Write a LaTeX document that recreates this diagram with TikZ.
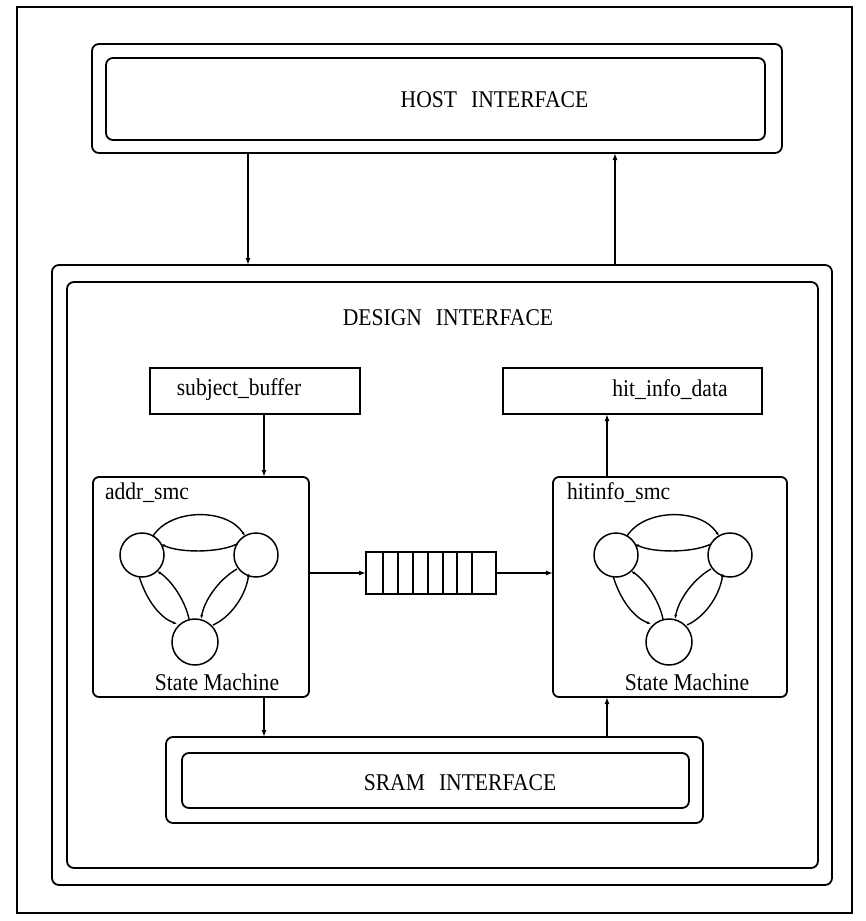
\documentclass[tikz,border=0pt]{standalone}
\usepackage{fontspec}
\setmainfont{Liberation Serif}
\newfontfamily\condserif{Liberation Serif}[FakeStretch=0.9]
\usetikzlibrary{arrows.meta,calc}
\tikzset{
  every node/.style={inner sep=0pt, outer sep=0pt},
  ln/.style={line width=1.8pt},
  rbox/.style={ln, draw, rounded corners=7pt},
  sbox/.style={ln, draw},
  arr/.style={ln, -{Latex[length=7pt,width=5pt]}},
  sarr/.style={line width=1.4pt, -{Latex[length=4pt,width=3pt]}},
  lbl/.style={font=\condserif\fontsize{24}{28}\selectfont},
  pics/statemachine/.style={code={
    \draw[line width=1.5pt] (-57,-25) circle (22);
    \draw[line width=1.5pt] (57,-25) circle (22);
    \draw[line width=1.5pt] (-4,62) circle (23);
    \draw[sarr] (-46,-44) .. controls (-28,-72) and (28,-72) .. (46,-44);
    \draw[sarr] (38,-36) .. controls (20,-27) and (-20,-27) .. (-38,-36);
    \draw[sarr] (-60,-4) .. controls (-52,22) and (-38,38) .. (-22,44);
    \draw[sarr] (-10,39) .. controls (-14,20) and (-28,0) .. (-42,-9);
    \draw[sarr] (14,45) .. controls (30,38) and (46,18) .. (50,-7);
    \draw[sarr] (38,-11) .. controls (22,-2) and (6,18) .. (2,39);
  }}
}
\begin{document}
\begin{tikzpicture}[x=1pt,y=-1pt]
\useasboundingbox (0,0) rectangle (866,921);
% outer frame
\node[sbox, minimum width=835pt, minimum height=906pt] (frame) at (434.5,460) {};
% host interface
\node[rbox, minimum width=690pt, minimum height=109pt] (hostO) at (437,98.5) {};
\node[rbox, minimum width=659pt, minimum height=82pt] (hostI) at (435.5,99) {};
\node[lbl] (hostT) at (494.5,100) {HOST\hspace{14pt}INTERFACE};
% design interface
\node[rbox, minimum width=780pt, minimum height=620pt] (desO) at (442,575) {};
\node[rbox, minimum width=751pt, minimum height=586pt] (desI) at (442.5,575) {};
\node[lbl] (desT) at (448,318) {DESIGN\hspace{14pt}INTERFACE};
% buffers
\node[sbox, minimum width=210pt, minimum height=46pt] (sb) at (255,391) {};
\node[lbl] (sbT) at (239,390) {subject\_buffer};
\node[sbox, minimum width=259pt, minimum height=46pt] (hid) at (632.5,391) {};
\node[lbl] (hidT) at (670,390) {hit\_info\_data};
% state machine boxes
\node[rbox, rounded corners=6pt, minimum width=216pt, minimum height=220pt] (addr) at (201,587) {};
\node[rbox, rounded corners=6pt, minimum width=234pt, minimum height=220pt] (hit) at (670,587) {};
\node[lbl, anchor=west] (addrT) at (105,493) {addr\_smc};
\node[lbl, anchor=west] (hitT) at (567,493) {hitinfo\_smc};
\pic at (199,580) {statemachine};
\pic at (673,580) {statemachine};
\node[lbl] (addrS) at (217,682) {State Machine};
\node[lbl] (hitS) at (687,682) {State Machine};
% queue
\node[sbox, minimum width=130pt, minimum height=42pt] (queue) at (431,573) {};
\foreach \xx in {383,398,413,428,443,457,472}
  \draw[ln] (\xx,552) -- (\xx,594);
% sram interface
\node[rbox, minimum width=537pt, minimum height=86pt] (sramO) at (434.5,780) {};
\node[rbox, minimum width=507pt, minimum height=55pt] (sramI) at (435.5,780.5) {};
\node[lbl] (sramT) at (460,783) {SRAM\hspace{14pt}INTERFACE};
% connectors
\coordinate (c1) at (248,0);
\coordinate (c2) at (615,0);
\coordinate (c3) at (264,0);
\coordinate (c4) at (607,0);
\draw[arr] (hostO.south -| c1) -- (desO.north -| c1);
\draw[arr] (desO.north -| c2) -- (hostO.south -| c2);
\draw[arr] (sb.south -| c3) -- (addr.north -| c3);
\draw[arr] (hit.north -| c4) -- (hid.south -| c4);
\draw[arr] (addr.east |- queue.west) -- (queue.west);
\draw[arr] (queue.east) -- (hit.west |- queue.east);
\draw[arr] (addr.south -| c3) -- (sramO.north -| c3);
\draw[arr] (sramO.north -| c4) -- (hit.south -| c4);
\end{tikzpicture}
\end{document}
